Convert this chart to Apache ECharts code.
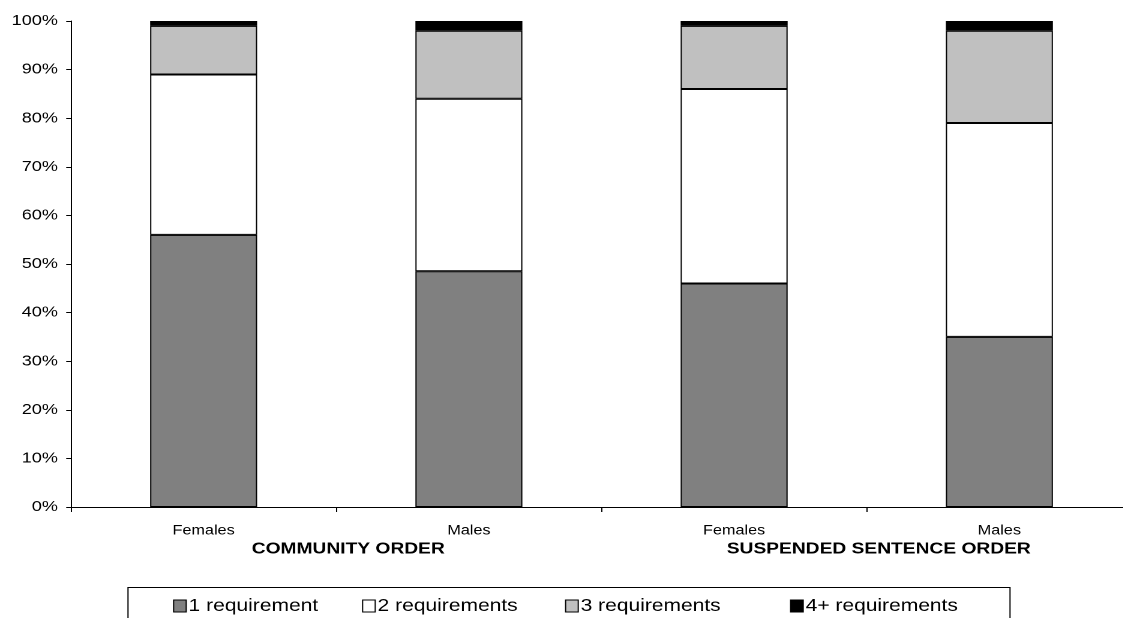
<!DOCTYPE html>
<html>
<head>
<meta charset="utf-8">
<script src="https://cdn.jsdelivr.net/npm/echarts@6/dist/echarts.min.js"></script>
<style>
html,body{margin:0;padding:0;background:#fff;overflow:hidden;width:1123px;height:618px;}
#chart{width:960px;height:618px;transform:scaleX(1.2);transform-origin:0 0;}
</style>
</head>
<body>
<div id="chart"></div>
<script>
const categories = ['Females', 'Males', 'Females', 'Males'];
const groups = ['COMMUNITY ORDER', 'SUSPENDED SENTENCE ORDER'];
const yTicks = [0, 10, 20, 30, 40, 50, 60, 70, 80, 90, 100];
const seriesNames = ['1 requirement', '2 requirements', '3 requirements', '4+ requirements'];
const req1 = [56, 48.5, 46, 35];
const req2 = [33, 35.5, 40, 44];
const req3 = [10, 14, 13, 19];
const req4 = [1, 2, 1, 2];

const values = [req1, req2, req3, req4];
const colors = ['#808080', '#ffffff', '#c0c0c0', '#000000'];
const SX = 1.2; // horizontal stretch of the reference
const legendLefts = [173, 362, 565, 790].map(v => v / SX);
const font = 'Arial, "Liberation Sans", sans-serif';

const chart = echarts.init(document.getElementById('chart'), null, {renderer: 'canvas', devicePixelRatio: 2});
const option = {
  animation: false,
  backgroundColor: '#fff',
  grid: {left: 71 / SX, top: 21, height: 486, width: 1061 / SX, containLabel: false},
  xAxis: [{
    type: 'category',
    data: categories,
    axisLine: {lineStyle: {color: '#000', width: 1}},
    axisTick: {show: true, length: 5, lineStyle: {color: '#000'}, alignWithLabel: false},
    axisLabel: {color: '#000', fontSize: 13.5, fontFamily: font, margin: 17}
  }, {
    type: 'category',
    data: groups,
    position: 'bottom',
    axisLine: {show: false},
    axisTick: {show: false},
    axisLabel: {color: '#000', fontSize: 16, fontWeight: 'bold', fontFamily: font, margin: 34, padding: [0, 0, 0, 20]}
  }],
  yAxis: {
    type: 'value',
    min: yTicks[0],
    max: yTicks[yTicks.length - 1],
    interval: 10,
    axisLine: {show: true, lineStyle: {color: '#000', width: 1}},
    axisTick: {show: true, length: 4, lineStyle: {color: '#000'}},
    splitLine: {show: false},
    axisLabel: {color: '#000', fontSize: 15, fontFamily: font, margin: 11, formatter: '{value}%'}
  },
  legend: seriesNames.map((n, i) => ({
    data: [n],
    left: legendLefts[i],
    top: 597,
    itemWidth: 10.5,
    itemHeight: 12,
    itemGap: 5,
    icon: 'rect',
    padding: 0,
    textStyle: {color: '#000', fontSize: 17.5, fontFamily: font, padding: [0, 0, 0, -3]},
    itemStyle: {borderColor: '#000', borderWidth: 1}
  })),
  graphic: [{
    type: 'rect',
    shape: {x: 128 / SX, y: 587.5, width: 882 / SX, height: 60},
    style: {fill: 'none', stroke: '#000', lineWidth: 1},
    silent: true
  }],
  series: seriesNames.map((n, i) => ({
    name: n,
    type: 'bar',
    stack: 'total',
    data: values[i],
    barWidth: 107 / SX,
    itemStyle: {color: colors[i], borderColor: '#000', borderWidth: 1},
    emphasis: {disabled: true}
  }))
};
chart.setOption(option);
</script>
</body>
</html>
